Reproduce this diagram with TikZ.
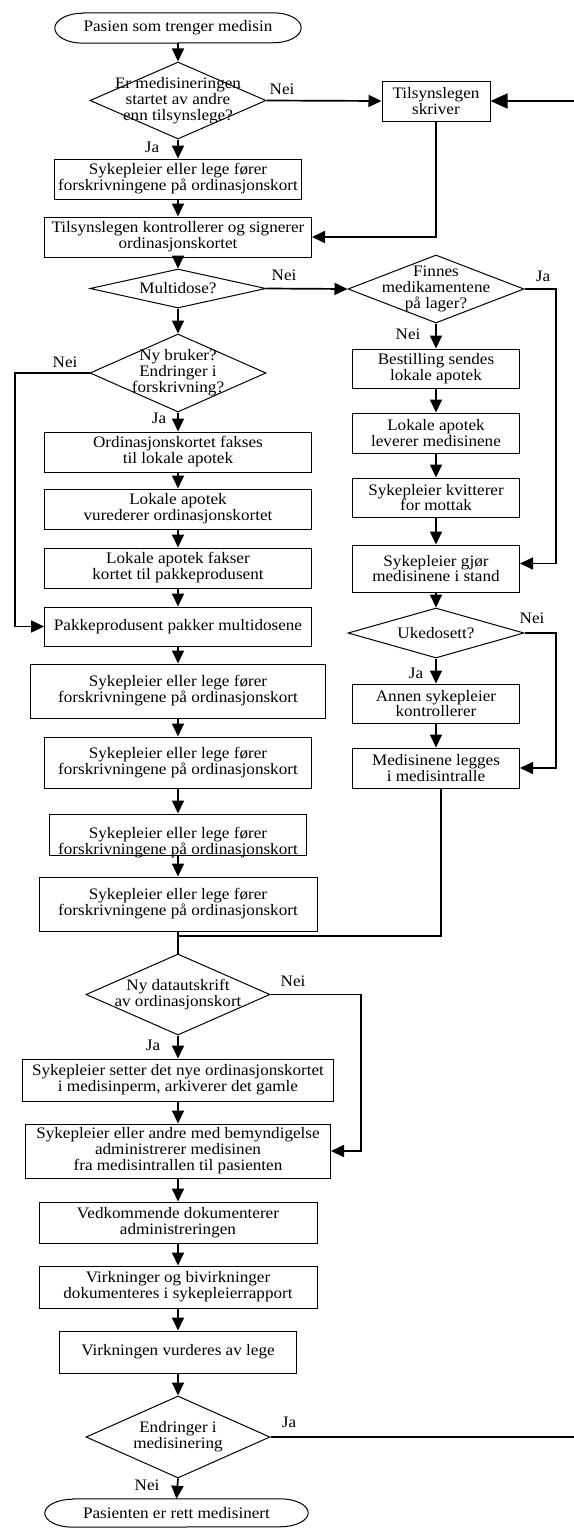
\documentclass[tikz,border=0pt]{standalone}
\usepackage{fontspec}
\setmainfont{Liberation Serif}[FakeStretch=1.07]
\usetikzlibrary{shapes.geometric,arrows.meta}
% outline of a terminal node: flat top and bottom, elliptic ends
\newcommand\termoutline[2]{%
  \draw[line width=1pt] ([xshift=28pt]#1.north west) -- ([xshift=-28pt]#1.north east)
    arc[start angle=90,end angle=-90,x radius=28pt,y radius=#2pt]
    -- ([xshift=28pt]#1.south west)
    arc[start angle=270,end angle=90,x radius=28pt,y radius=#2pt] -- cycle;}
\begin{document}
\begin{tikzpicture}[x=1pt,y=-1pt,
  every node/.style={font=\fontsize{16}{15.9}\selectfont},
  sz/.style 2 args={minimum width=#1pt,minimum height=#2pt},
  box/.style={draw,line width=1pt,rectangle,inner sep=0pt,align=center},
  dia/.style={draw,line width=1pt,diamond,inner sep=0pt},
  term/.style={rectangle,inner sep=0pt,align=center},
  lbl/.style={inner sep=0pt},
  flow/.style={line width=1.7pt,-{Triangle[length=13pt,width=12pt]}},
  bigflow/.style={line width=1.7pt,-{Triangle[length=17pt,width=15pt]}},
  link/.style={line width=1.7pt},
]
\useasboundingbox (0,0) rectangle (573,1528);

% ---- main column, top part
\node[term,sz={246}{30}] (start) at (178,28) {Pasien som trenger medisin};
\termoutline{start}{15}
\node[dia,sz={176}{77},label={[align=center]center:{Er medisineringen\\startet av andre\\enn tilsynslege?}}] (d1) at (178,100.5) {};
\node[box,sz={108}{40}] (tils) at (436,101) {Tilsynslegen\\skriver};
\node[box,sz={247}{40}] (s1) at (178,179) {Sykepleier eller lege fører\\forskrivningene på ordinasjonskort};
\node[box,sz={267}{40}] (tk) at (178,237) {Tilsynslegen kontrollerer og signerer\\ordinasjonskortet};
\node[dia,sz={176}{39},label={center:Multidose?}] (multi) at (178,288.5) {};

% ---- right column (no multidose)
\node[dia,sz={176}{68},label={[align=center]center:{Finnes\\medikamentene\\på lager?}}] (finnes) at (436,289) {};
\node[box,sz={167}{39}] (best) at (436,368.5) {Bestilling sendes\\lokale apotek};
\node[box,sz={167}{40}] (lev) at (436,433) {Lokale apotek\\leverer medisinene};
\node[box,sz={167}{39}] (kvit) at (436,497.5) {Sykepleier kvitterer\\for mottak};
\node[box,sz={167}{47}] (gjor) at (436,568.5) {Sykepleier gjør\\medisinene i stand};
\node[dia,sz={176}{50},label={center:Ukedosett?}] (uke) at (436,633) {};
\node[box,sz={167}{39}] (annen) at (436,703.5) {Annen sykepleier\\kontrollerer};
\node[box,sz={167}{40}] (medl) at (436,768) {Medisinene legges\\i medisintralle};

% ---- left column (multidose)
\node[dia,sz={176}{78},label={[align=center]center:{Ny bruker?\\Endringer i\\forskrivning?}}] (nyb) at (178,373) {};
\node[box,sz={267}{40}] (faks) at (178,452) {Ordinasjonskortet fakses\\til lokale apotek};
\node[box,sz={267}{40}] (vur) at (178,509) {Lokale apotek\\vurederer ordinasjonskortet};
\node[box,sz={267}{40}] (fakser) at (178,568) {Lokale apotek fakser\\kortet til pakkeprodusent};
\node[box,sz={267}{39}] (pakk) at (178,626.5) {Pakkeprodusent pakker multidosene};
\node[box,sz={295}{54}] (s2) at (178,691) {Sykepleier eller lege fører\\forskrivningene på ordinasjonskort};
\node[box,sz={267}{51}] (s3) at (178,762.5) {Sykepleier eller lege fører\\forskrivningene på ordinasjonskort};
\node[box,sz={257}{41},label={[align=center,yshift=-8pt]center:{Sykepleier eller lege fører\\forskrivningene på ordinasjonskort}}] (s4) at (178,834.5) {};
\node[box,sz={278}{54}] (s5) at (178,904) {Sykepleier eller lege fører\\forskrivningene på ordinasjonskort};

% ---- main column, lower part
\node[dia,sz={184}{81},label={[align=center]center:{Ny datautskrift\\av ordinasjonskort}}] (dat) at (178,994.5) {};
\node[box,sz={311}{42}] (setter) at (178,1080) {Sykepleier setter det nye ordinasjonskortet\\i medisinperm, arkiverer det gamle};
\node[box,sz={305}{54}] (andre) at (178,1151) {Sykepleier eller andre med bemyndigelse\\administrerer medisinen\\fra medisintrallen til pasienten};
\node[box,sz={278}{41}] (ved) at (178,1222.5) {Vedkommende dokumenterer\\administreringen};
\node[box,sz={278}{42}] (virk) at (178,1287) {Virkninger og bivirkninger\\dokumenteres i sykepleierrapport};
\node[box,sz={237}{42}] (vurd) at (178,1352) {Virkningen vurderes av lege};
\node[dia,sz={184}{82},label={[align=center]center:{Endringer i\\medisinering}}] (endr) at (178,1437) {};
\node[term,sz={263}{28}] (slutt) at (176.5,1513) {Pasienten er rett medisinert};
\termoutline{slutt}{14}

% ---- branch labels
\node[lbl] (n1) at (282,89) {Nei};
\node[lbl] (j1) at (152,147) {Ja};
\node[lbl] (n2) at (284,275) {Nei};
\node[lbl] (j2) at (543,276) {Ja};
\node[lbl] (n3) at (408,334) {Nei};
\node[lbl] (n4) at (65,362) {Nei};
\node[lbl] (j4) at (159,418) {Ja};
\node[lbl] (n5) at (532,618) {Nei};
\node[lbl] (j5) at (416,673) {Ja};
\node[lbl] (n6) at (293,981) {Nei};
\node[lbl] (j6) at (153,1045) {Ja};
\node[lbl] (j7) at (289,1422) {Ja};
\node[lbl] (n7) at (147,1485) {Nei};

% ---- routing columns
\coordinate (rx) at (576,0);
\coordinate (rc) at (556,0);
\coordinate (lc) at (15,0);
\coordinate (rc2) at (361,0);
\coordinate (join) at (178,936);

% ---- connectors
\draw[flow] (start.south) -- (d1.north);
\draw[flow] (d1.south) -- (s1.north);
\draw[flow] (d1.east) -- (tils.west);
\draw[bigflow] (endr.east) -- (endr.east -| rx) -- (tils.east -| rx) -- (tils.east);
\draw[flow] (tils.south) |- (tk.east);
\draw[flow] (s1.south) -- (tk.north);
\draw[flow] (tk.south) -- (multi.north);
\draw[flow] (multi.east) -- (finnes.west);
\draw[flow] (finnes.south) -- (best.north);
\draw[flow] (finnes.east) -- (finnes.east -| rc) |- ([yshift=5pt]gjor.east);
\draw[flow] (best.south) -- (lev.north);
\draw[flow] (lev.south) -- (kvit.north);
\draw[flow] (kvit.south) -- (gjor.north);
\draw[flow] (gjor.south) -- (uke.north);
\draw[flow] (uke.south) -- (annen.north);
\draw[flow] (uke.east) -- (uke.east -| rc) |- (medl.east);
\draw[flow] (annen.south) -- (medl.north);
\draw[flow] (multi.south) -- (nyb.north);
\draw[flow] (nyb.south) -- (faks.north);
\draw[flow] (nyb.west) -- (nyb.west -| lc) |- (pakk.west);
\draw[flow] (faks.south) -- (vur.north);
\draw[flow] (vur.south) -- (fakser.north);
\draw[flow] (fakser.south) -- (pakk.north);
\draw[flow] (pakk.south) -- (s2.north);
\draw[flow] (s2.south) -- (s3.north);
\draw[flow] (s3.south) -- (s4.north);
\draw[flow] (s4.south) -- (s5.north);
\draw[link] (s5.south) -- (dat.north);
\draw[link] ([xshift=5pt]medl.south) |- (join);
\draw[flow] (dat.south) -- (setter.north);
\draw[flow] (dat.east) -- (dat.east -| rc2) |- (andre.east);
\draw[flow] (setter.south) -- (andre.north);
\draw[flow] (andre.south) -- (ved.north);
\draw[flow] (ved.south) -- (virk.north);
\draw[flow] (virk.south) -- (vurd.north);
\draw[flow] (vurd.south) -- (endr.north);
\draw[flow] (endr.south) -- (slutt.north);
\end{tikzpicture}
\end{document}
